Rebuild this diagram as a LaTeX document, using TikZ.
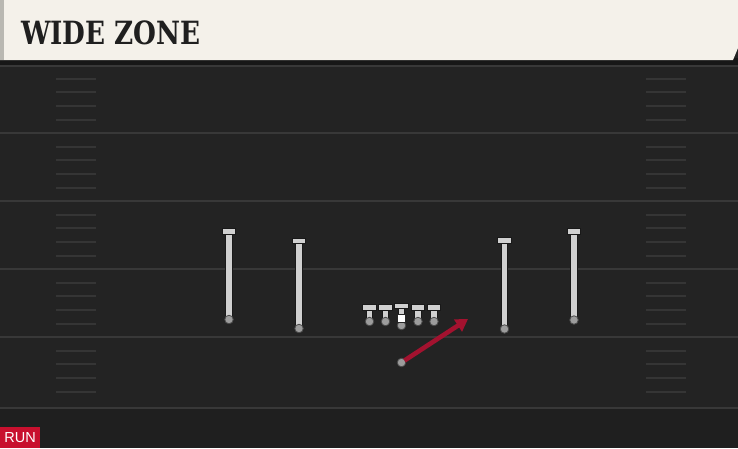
\documentclass[tikz,border=0pt]{standalone}
\usepackage{fontspec}
\setmainfont{Liberation Sans}
\newfontfamily\titlefont{DejaVu Serif}
\usetikzlibrary{arrows.meta}
\definecolor{fieldbg}{HTML}{232323}
\definecolor{fieldlow}{HTML}{1F1F1F}
\definecolor{cream}{HTML}{F4F1EA}
\definecolor{creamedge}{HTML}{B9B8B2}
\definecolor{shadowc}{HTML}{171717}
\definecolor{yardc}{HTML}{383838}
\definecolor{hashc}{HTML}{353535}
\definecolor{stemc}{HTML}{D0D0D0}
\definecolor{dotc}{HTML}{9C9C9C}
\definecolor{runred}{HTML}{C8102E}
\definecolor{routered}{HTML}{A3122F}
\tikzset{
  yardline/.style={draw=yardc, line width=2pt},
  hashline/.style={draw=hashc, line width=2pt},
  stemout/.style={draw=black!90, line width=7.6pt},
  steminner/.style={draw=stemc, line width=5.4pt},
  tbar/.style={draw=black!90, fill=stemc, line width=1pt, minimum width=13.5pt, minimum height=5.5pt, inner sep=0pt, rectangle},
  pdot/.style={circle, draw=black!70, fill=dotc, line width=0.8pt, minimum size=8.5pt, inner sep=0pt},
  csquare/.style={draw=black!85, fill=white, line width=0.8pt, minimum width=8.5pt, minimum height=8pt, inner sep=0pt, rectangle},
  route/.style={draw=routered, line width=4.6pt, -{Triangle[length=12pt,width=14pt]}},
  titletext/.style={font=\titlefont\bfseries\fontsize{32}{32}\selectfont, text=black!88, anchor=west, inner sep=0pt},
  runlabel/.style={fill=runred, text=white, font=\fontsize{14.5}{14.5}\selectfont, minimum width=40pt, minimum height=21pt, inner sep=0pt, anchor=south west}
}
\newcommand{\playerT}[4]{%
  \coordinate (#1top) at (#2,#3);
  \coordinate (#1bot) at (#2,#4);
  \draw[stemout] (#1top) -- (#1bot);
  \draw[steminner] (#1top) -- (#1bot);
  \node[tbar] (#1bar) at (#1top) {};
  \node[pdot] (#1) at (#1bot) {};
}
\begin{document}
\begin{tikzpicture}[x=1pt,y=-1pt]
\useasboundingbox (0,0) rectangle (738,448);
\fill[fieldbg] (0,0) rectangle (738,448);
\fill[fieldlow] (0,409) rectangle (738,448);
% header
\fill[shadowc] (0,58) rectangle (738,66);
\fill[cream] (0,0) -- (738,0) -- (738,48) -- (733,60) -- (0,60) -- cycle;
\fill[creamedge] (0,0) rectangle (4,60);
\node[titletext] (title) at (21,33) {\scalebox{0.82}[1]{WIDE ZONE}};
% yard lines
\draw[yardline] (0,66) -- (738,66);
\foreach \yy in {133,201,269,337,408} \draw[yardline] (0,\yy) -- (738,\yy);
% hash marks
\foreach \b in {65,133,201,269,337} {
  \foreach \o in {14,27,41,55} {
    \draw[hashline] (56,\b+\o) -- (96,\b+\o);
    \draw[hashline] (646,\b+\o) -- (686,\b+\o);
  }
}
% receivers
\playerT{wra}{229}{231.5}{319.5}
\playerT{wrb}{299}{241}{328.5}
\playerT{wrc}{504.5}{240.5}{329}
\playerT{wrd}{574}{231.5}{320}
% offensive line
\playerT{lt}{369.5}{307.5}{321.5}
\playerT{lg}{385.5}{307.5}{321.5}
\playerT{rg}{418}{307.5}{321.5}
\playerT{rt}{434}{307.5}{321.5}
% center
\coordinate (ctop) at (401.5,306);
\coordinate (cbot) at (401.5,325.5);
\draw[stemout] (ctop) -- (cbot);
\draw[steminner] (ctop) -- (cbot);
\node[tbar] (cbar) at (ctop) {};
\node[pdot] (c) at (cbot) {};
\node[csquare] (cbody) at (401.5,318.5) {};
% running back
\node[pdot] (rb) at (401.5,362.5) {};
\coordinate (rbend) at (468,319);
\path (rb.center) ++(3,-2) coordinate (rbstart);
\draw[route] (rbstart) -- (rbend);
% label
\node[runlabel] (run) at (0,448) {RUN};
\end{tikzpicture}
\end{document}
